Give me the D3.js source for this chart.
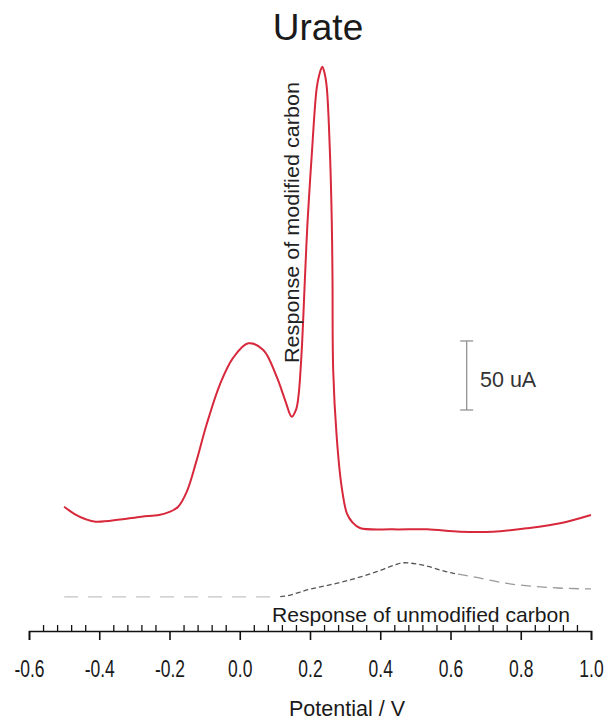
<!DOCTYPE html>
<html>
<head>
<meta charset="utf-8">
<script src="https://cdn.jsdelivr.net/npm/d3@7"></script>
<style>
  html, body { margin: 0; padding: 0; background: #fff; }
  svg { display: block; }
  .tick-labels text { font-family: "Liberation Sans", Arial, sans-serif; font-size: 23px; fill: #1a1a1a; }
</style>
</head>
<body>
<script>
// Modified carbon (red trace): potential in V, current in uA (offset baseline)
const modifiedPotential = [-0.50, -0.47, -0.44, -0.41, -0.34, -0.28, -0.23, -0.20, -0.176, -0.151,
  -0.123, -0.094, -0.056, -0.019, 0.024, 0.067, 0.105, 0.129, 0.148, 0.160,
  0.167, 0.176, 0.186, 0.193, 0.205, 0.219, 0.227, 0.235, 0.242, 0.248,
  0.257, 0.262, 0.264, 0.266, 0.276, 0.290, 0.305, 0.320, 0.342, 0.436,
  0.533, 0.627, 0.721, 0.818, 0.912, 1.00];
const modifiedCurrent = [67.6, 62.3, 58.7, 56.7, 58.3, 60.4, 61.6, 63.8, 67.4, 78.3,
  101.0, 127.5, 156.5, 175.4, 186.0, 181.2, 161.8, 144.9, 132.8, 137.7,
  147.3, 179.0, 235.5, 274.1, 322.5, 370.8, 381.2, 386.5, 381.2, 370.8,
  322.5, 274.1, 235.5, 166.7, 118.3, 82.1, 62.8, 56.5, 52.2, 51.2,
  51.2, 49.5, 49.5, 52.0, 55.6, 61.6];

// Unmodified carbon (dashed trace)
const unmodifiedPotential = [-0.50, 0.080, 0.115, 0.200, 0.295, 0.390, 0.442, 0.466, 0.504, 0.608, 0.652, 0.753, 0.906, 1.00];
const unmodifiedCurrent = [2.2, 2.2, 2.4, 7.8, 13.3, 20.5, 25.4, 27.0, 26.1, 19.3, 17.4, 12.3, 8.7, 8.0];

const majorTicks = [-0.6, -0.4, -0.2, 0.0, 0.2, 0.4, 0.6, 0.8, 1.0];
const minorTicks = d3.range(0, 41, 1).map(i => +(-0.6 + i * 0.04).toFixed(2))
  .filter(v => !majorTicks.some(m => Math.abs(m - v) < 1e-6));
const scaleBar = [137.7, 187.7]; // 50 uA

const w = 608;
const h = 723;

const x = d3.scaleLinear().domain([-0.6, 1.0]).range([29, 591]);
const y = d3.scaleLinear().domain([0, 400]).range([600, 48]);

const svg = d3.select('body').append('svg')
  .attr('width', w)
  .attr('height', h);

// Title
svg.append('text')
  .attr('x', 318)
  .attr('y', 40)
  .attr('text-anchor', 'middle')
  .style('font-family', '"Liberation Sans", Arial, sans-serif')
  .style('font-size', '37px')
  .style('fill', '#1a1a1a')
  .text('Urate');

// Traces
const modData = modifiedPotential.map((v, i) => [v, modifiedCurrent[i]]);
const unmodData = unmodifiedPotential.map((v, i) => [v, unmodifiedCurrent[i]]);

const line = d3.line()
  .x(d => x(d[0]))
  .y(d => y(d[1]))
  .curve(d3.curveMonotoneX);

// dashed trace: flat light part, darker rise/peak, lighter tail
const segments = [
  { id: 'a', from: -0.5, to: 0.115, color: '#c4c4c4', dash: '14,10' },
  { id: 'b', from: 0.115, to: 0.62, color: '#555', dash: '5,3' },
  { id: 'c', from: 0.62, to: 1.0, color: '#9a9a9a', dash: '10,6' },
];
segments.forEach(s => {
  svg.append('clipPath')
    .attr('id', `clip-${s.id}`)
    .append('rect')
    .attr('x', x(s.from))
    .attr('y', 0)
    .attr('width', x(s.to) - x(s.from))
    .attr('height', h);
  svg.append('path')
    .datum(unmodData)
    .attr('clip-path', `url(#clip-${s.id})`)
    .attr('d', line)
    .attr('fill', 'none')
    .attr('stroke', s.color)
    .attr('stroke-width', 1.3)
    .attr('stroke-dasharray', s.dash);
});

svg.append('path')
  .datum(modData)
  .attr('d', line.curve(d3.curveCatmullRom.alpha(0.5)))
  .attr('fill', 'none')
  .attr('stroke', '#d7283c')
  .attr('stroke-width', 2);

// Scale bar
const barX = 466.7;
svg.append('line')
  .attr('x1', barX).attr('x2', barX)
  .attr('y1', y(scaleBar[0])).attr('y2', y(scaleBar[1]))
  .attr('stroke', '#8a8a8a').attr('stroke-width', 1.2);
scaleBar.forEach(v => {
  svg.append('line')
    .attr('x1', barX - 6.5).attr('x2', barX + 6.5)
    .attr('y1', y(v)).attr('y2', y(v))
    .attr('stroke', '#8a8a8a').attr('stroke-width', 1.2);
});
svg.append('text')
  .attr('x', 480)
  .attr('y', 387)
  .style('font-family', '"Liberation Sans", Arial, sans-serif')
  .style('font-size', '21.5px')
  .style('fill', '#333')
  .text('50 uA');

// Annotations
svg.append('text')
  .attr('transform', 'translate(298.5, 363) rotate(-90)')
  .attr('textLength', 281)
  .attr('lengthAdjust', 'spacingAndGlyphs')
  .style('font-family', '"Liberation Sans", Arial, sans-serif')
  .style('font-size', '21px')
  .style('fill', '#222')
  .text('Response of modified carbon');

svg.append('text')
  .attr('x', 272)
  .attr('y', 622)
  .attr('textLength', 298)
  .attr('lengthAdjust', 'spacingAndGlyphs')
  .style('font-family', '"Liberation Sans", Arial, sans-serif')
  .style('font-size', '21px')
  .style('fill', '#1a1a1a')
  .text('Response of unmodified carbon');

// X axis: major ticks down with labels, minor ticks up
const axisY = 631;
const xAxis = d3.axisBottom(x)
  .tickValues(majorTicks)
  .tickFormat(d => d3.format('.1f')(d).replace('−', '-'))
  .tickSize(9)
  .tickPadding(21);

const gx = svg.append('g')
  .attr('class', 'tick-labels')
  .attr('transform', `translate(0, ${axisY})`)
  .call(xAxis);
gx.selectAll('path, line').attr('stroke', '#111').attr('stroke-width', 1.6);
// condensed look of the original labels
gx.selectAll('text')
  .attr('fill', '#1a1a1a')
  .each(function () {
    const len = this.getComputedTextLength();
    d3.select(this).attr('textLength', len * 0.76).attr('lengthAdjust', 'spacingAndGlyphs');
  });

const minorAxis = d3.axisTop(x)
  .tickValues(minorTicks)
  .tickSize(6)
  .tickFormat('');
const gm = svg.append('g')
  .attr('transform', `translate(0, ${axisY})`)
  .call(minorAxis);
gm.select('.domain').remove();
gm.selectAll('line').attr('stroke', '#111').attr('stroke-width', 1.3);

svg.append('text')
  .attr('x', 347)
  .attr('y', 716)
  .attr('text-anchor', 'middle')
  .attr('textLength', 116)
  .attr('lengthAdjust', 'spacingAndGlyphs')
  .style('font-family', '"Liberation Sans", Arial, sans-serif')
  .style('font-size', '22px')
  .style('fill', '#1a1a1a')
  .text('Potential / V');
</script>
</body>
</html>
